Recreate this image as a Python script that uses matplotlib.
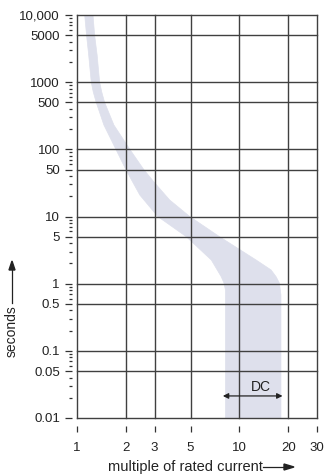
import matplotlib.pyplot as plt
from matplotlib.patches import Polygon

plt.rcParams['font.family'] = ['Liberation Sans', 'DejaVu Sans']

# axis ticks
x_ticks = [1, 2, 3, 5, 10, 20, 30]
x_labels = ['1', '2', '3', '5', '10', '20', '30']
y_ticks = [0.01, 0.05, 0.1, 0.5, 1, 5, 10, 50, 100, 500, 1000, 5000, 10000]
y_labels = ['0.01', '0.05', '0.1', '0.5', '1', '5', '10', '50', '100',
            '500', '1000', '5000', '10,000']

# tripping band, upper-right edge
upper_x = [1.254, 1.284, 1.33, 1.378, 1.42, 1.479, 1.687, 2.114, 2.576, 3.01, 3.72, 4.94,
           7.54, 12.66, 15.65, 16.8, 17.6, 18.0, 18.0]
upper_y = [10000, 5000, 2540, 1000, 714, 500, 230, 100, 50, 31.6, 17.6, 10,
           5.0, 2.25, 1.6, 1.27, 1.02, 0.68, 0.01]
# lower-left edge
lower_x = [1.115, 1.145, 1.18, 1.224, 1.259, 1.313, 1.464, 1.735, 1.998, 2.435, 3.14,
           4.71, 6.71, 7.72, 8.03, 8.2, 8.2]
lower_y = [10000, 5000, 2540, 1000, 714, 500, 230, 100, 50, 20.9, 10,
           5.0, 2.25, 1.27, 1.02, 0.8, 0.01]

dc_range = [7.9, 18.4]

fig = plt.figure(figsize=(3.25, 4.75), dpi=100)
ax = fig.add_axes([77 / 325, 1 - 418 / 475, 240 / 325, 403 / 475])
ax.set_xscale('log')
ax.set_yscale('log')
ax.set_xlim(1, 30)
ax.set_ylim(0.01, 10000)

pts = list(zip(upper_x, upper_y)) + list(zip(lower_x[::-1], lower_y[::-1]))
ax.add_patch(Polygon(pts, closed=True, facecolor='#dee0ec', edgecolor='#dee0ec',
                     lw=0.5, joinstyle='round', zorder=0))

grid_col = '#404040'
for xv in x_ticks:
    ax.axvline(xv, color=grid_col, lw=1.0, zorder=2, clip_on=False)
for yv in y_ticks:
    ax.axhline(yv, color=grid_col, lw=1.0, zorder=2, clip_on=False)

for s in ['top', 'right']:
    ax.spines[s].set_visible(False)
ax.spines['left'].set_position(('outward', 3.3))
ax.spines['bottom'].set_position(('outward', 6))
ax.spines['left'].set_color('none')
ax.spines['bottom'].set_color('none')

ax.set_xticks(x_ticks)
ax.set_xticklabels(x_labels)
ax.xaxis.set_minor_locator(plt.NullLocator())
ax.set_yticks(y_ticks)
ax.set_yticklabels(y_labels)
minor = [m * 10.0 ** e for e in range(-2, 4) for m in [2, 3, 4, 6, 7, 8, 9]]
ax.set_yticks(minor, minor=True)
ax.yaxis.set_minor_formatter(plt.NullFormatter())

ax.tick_params(axis='y', which='major', length=5, width=0.9, color='#333333',
               labelsize=9.5, pad=4, labelcolor='#222222')
ax.tick_params(axis='y', which='minor', length=2.5, width=0.9, color='#333333')
ax.tick_params(axis='x', which='major', length=4.5, width=0.9, color='#333333',
               labelsize=9.5, pad=7, labelcolor='#222222')

# DC arrow
ax.annotate('', xy=(dc_range[0], 0.0213), xytext=(dc_range[1], 0.0213),
            arrowprops=dict(arrowstyle='<|-|>', color='#222222', lw=0.9,
                            mutation_scale=8, shrinkA=0, shrinkB=0), zorder=3)
ax.text(13.6, 0.029, 'DC', ha='center', va='center', fontsize=10, color='#222222')

# axis labels with arrows
fig.text(12 / 325, 1 - 331 / 475, 'seconds', rotation=90, ha='center', va='center',
         fontsize=10, color='#222222')
fig.add_artist(plt.Line2D([12 / 325, 12 / 325], [1 - 303 / 475, 1 - 268 / 475],
                          color='#222222', lw=0.9))
fig.patches.append(plt.Polygon([[9 / 325, 1 - 270 / 475], [15 / 325, 1 - 270 / 475],
                                [12 / 325, 1 - 261 / 475]], closed=True,
                               transform=fig.transFigure, color='#222222'))

fig.text(263 / 325, 1 - 467 / 475, 'multiple of rated current', ha='right',
         va='center', fontsize=10.5, color='#222222')
fig.add_artist(plt.Line2D([263 / 325, 286 / 325], [1 - 467 / 475, 1 - 467 / 475],
                          color='#222222', lw=0.9))
fig.patches.append(plt.Polygon([[284 / 325, 1 - 464 / 475], [284 / 325, 1 - 470 / 475],
                                [294 / 325, 1 - 467 / 475]], closed=True,
                               transform=fig.transFigure, color='#222222'))

fig.savefig('out.png', dpi=100)
